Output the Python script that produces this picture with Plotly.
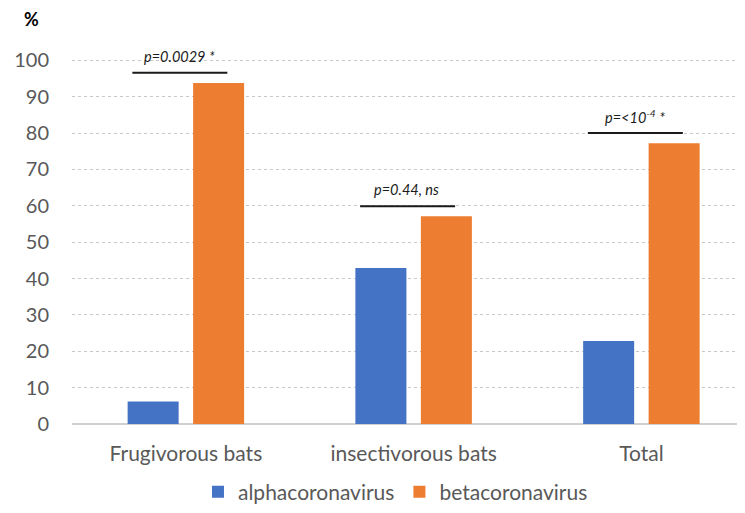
import plotly.graph_objects as go

categories = ["Frugivorous bats", "insectivorous bats", "Total"]
alpha_vals = [6.2, 42.9, 22.8]
beta_vals = [93.8, 57.1, 77.2]
p_labels = ["p=0.0029 *", "p=0.44, ns", "p=<10<sup>-4</sup> *"]
y_ticks = [0, 10, 20, 30, 40, 50, 60, 70, 80, 90, 100]

FONT = "Lato"
GREY = "#595959"

fig = go.Figure()
fig.add_trace(go.Bar(x=list(range(len(categories))), y=alpha_vals, name="alphacoronavirus",
                     marker=dict(color="#4472C4", line=dict(width=0))))
fig.add_trace(go.Bar(x=list(range(len(categories))), y=beta_vals, name="betacoronavirus",
                     marker=dict(color="#ED7D31", line=dict(width=0))))

shapes = []
annotations = []
for i, (a, b, lab) in enumerate(zip(alpha_vals, beta_vals, p_labels)):
    top = max(a, b)
    ly = top + 2.8
    shapes.append(dict(type="line", xref="x", yref="y", x0=i - 0.235, x1=i + 0.182,
                       y0=ly, y1=ly, line=dict(color="#1a1a1a", width=2)))
    annotations.append(dict(x=i - 0.03, y=ly + 4.6, xref="x", yref="y", text="<i>" + lab + "</i>",
                            showarrow=False, font=dict(family=FONT, size=14.5, color="#1a1a1a"),
                            xanchor="center", yanchor="middle"))

annotations.append(dict(x=-0.06, y=1.0115, xref="paper", yref="paper", text="<b>%</b>",
                        showarrow=False, xanchor="center", yanchor="middle",
                        font=dict(family=FONT, size=18, color="#000000")))

fig.update_layout(
    width=745, height=513,
    margin=dict(l=64, r=0, t=15.6, b=96.7, autoexpand=False),
    paper_bgcolor="white", plot_bgcolor="white",
    barmode="group", bargap=0.425, bargroupgap=0.221,
    font=dict(family=FONT, size=19, color=GREY),
    shapes=shapes, annotations=annotations,
    showlegend=True,
    legend=dict(orientation="h", x=0.475, xanchor="center", yref="container", y=0.0565,
                yanchor="middle", font=dict(family=FONT, size=21, color=GREY), itemwidth=30,
                traceorder="normal"),
)
fig.update_xaxes(range=[-0.5, 2.49], tickmode="array", tickvals=list(range(len(categories))),
                 ticktext=categories, showgrid=False, showline=False, zeroline=False,
                 ticks="", ticklabelstandoff=15, tickfont=dict(family=FONT, size=21, color=GREY))
fig.update_yaxes(range=[0, 110], tickmode="array", tickvals=y_ticks, showgrid=True,
                 gridcolor="#c8c8c8", griddash="dot", gridwidth=1,
                 zeroline=True, zerolinecolor="#d0d0d0", zerolinewidth=2,
                 showline=False, ticks="", ticklabelstandoff=22,
                 tickfont=dict(family=FONT, size=20, color=GREY))

fig.write_html("out.html")
